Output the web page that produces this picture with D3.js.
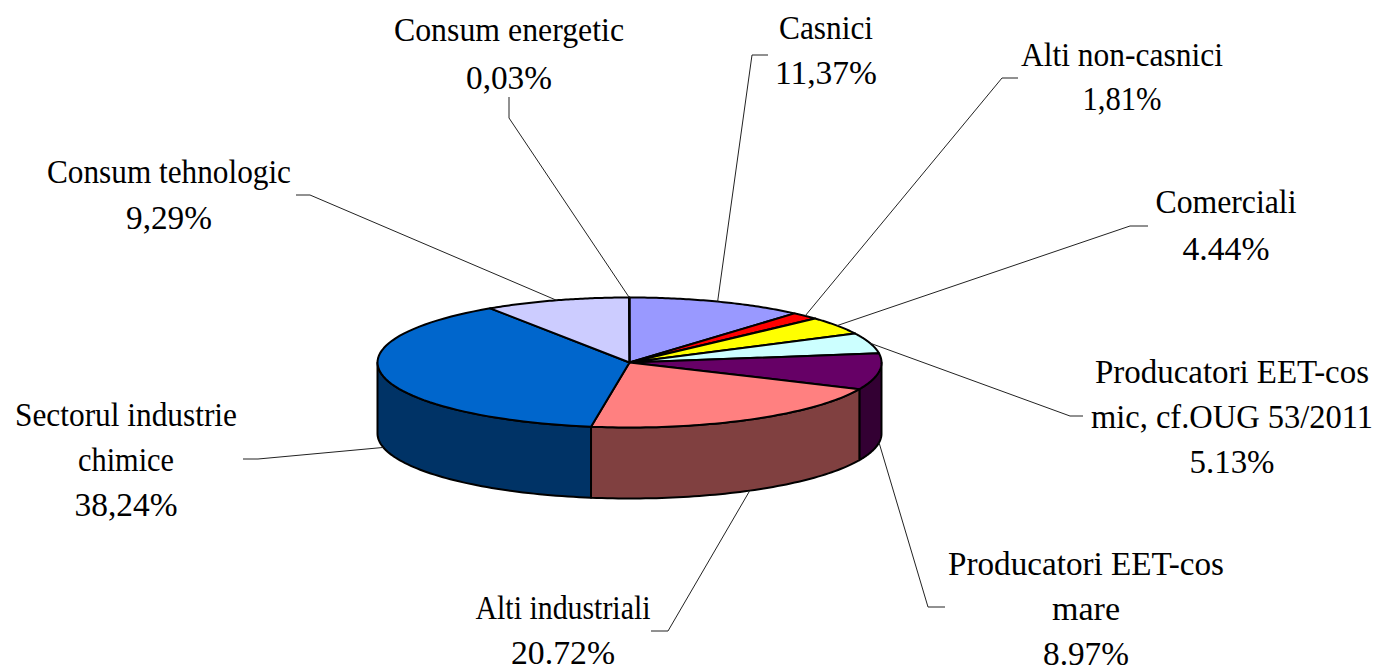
<!DOCTYPE html>
<html><head><meta charset="utf-8">
<script src="https://cdn.jsdelivr.net/npm/d3@7"></script>
<style>html,body{margin:0;padding:0;background:#fff;overflow:hidden}svg{display:block}text{font-family:"Liberation Serif",serif;font-size:33px;fill:#000}</style>
</head><body><svg id="c" width="1376" height="668"></svg>
<script>
const categories = ["Casnici","Alti non-casnici","Comerciali","Producatori EET-cos mic, cf.OUG 53/2011","Producatori EET-cos mare","Alti industriali","Sectorul industrie chimice","Consum tehnologic","Consum energetic"];
const values = [11.37,1.81,4.44,5.13,8.97,20.72,38.24,9.29,0.03];
const valueLabels = ["11,37%","1,81%","4.44%","5.13%","8.97%","20.72%","38,24%","9,29%","0,03%"];
const colors = ["#9999FF","#FF0000","#FFFF00","#CCFFFF","#660066","#FF8080","#0066CC","#CCCCFF","#FFFFCC"];
const sideColors = ["#4D4D80","#800000","#808000","#668080","#330033","#804040","#003366","#666680","#808066"];
// label layout, same order as categories
const labelLines = [["Casnici"],["Alti non-casnici"],["Comerciali"],["Producatori EET-cos","mic, cf.OUG 53/2011"],["Producatori EET-cos","mare"],["Alti industriali"],["Sectorul industrie","chimice"],["Consum tehnologic"],["Consum energetic"]];
const labelWidths = [[94,102],[202,79],[141,87],[274,282,85],[276,68,86],[175,104],[222,96,103],[244,86],[230,86]];
const labelX = [826,1122,1226,1232,1086,563,126,169,509];
const labelY = [39,66,213,383,575,619,426,183,41];
const lineGap = [45,44,47,45,45,45,45,46,48];
const elbow = [[752,55,768],[1002,78,1018],[1130,226,1148],[1070,416,1083],[928,607,945],[668,631,651],[258,459,243],[310,195,296],[509,118,509]];
const elbowEndY = [null,null,null,null,null,null,null,null,97];

const cx=629.5, cy=362.5, rx=252, ry=65, depth=71;
const svg=d3.select("#c");
const arcs=d3.pie().sort(null).startAngle(0).endAngle(2*Math.PI)(values);
const px=a=>cx+rx*Math.sin(a), py=a=>cy-ry*Math.cos(a);
const line=d3.line();
const arcPts=(a0,a1,dy=0)=>d3.range(0,61).map(i=>{const a=a0+(a1-a0)*i/60;return [px(a),py(a)+dy];});
const H=Math.PI/2;

// sides (front half only)
const g=svg.append("g").attr("stroke","#000").attr("stroke-width",2).attr("stroke-linejoin","round");
arcs.forEach((d,i)=>{
  const a0=Math.max(d.startAngle,H), a1=Math.min(d.endAngle,3*H);
  if(a1<=a0) return;
  const top=arcPts(a0,a1), bot=arcPts(a0,a1,depth).reverse();
  g.append("path").attr("d",line(top.concat(bot))+"Z").attr("fill",sideColors[i]);
});
// top face
arcs.forEach((d,i)=>{
  g.append("path").attr("d",line([[cx,cy]].concat(arcPts(d.startAngle,d.endAngle)))+"Z").attr("fill",colors[i]);
});

// leader lines
const lg=svg.append("g").attr("fill","none").attr("stroke","#222").attr("stroke-width",1);
arcs.forEach((d,i)=>{
  const m=(d.startAngle+d.endAngle)/2;
  const front=m>H&&m<3*H;
  const e=elbow[i];
  const pts=[[px(m),py(m)+(front?depth:0)],[e[0],e[1]],[e[2],elbowEndY[i]==null?e[1]:elbowEndY[i]]];
  lg.append("path").attr("d",line(pts));
});

// labels
arcs.forEach((d,i)=>{
  labelLines[i].concat([valueLabels[i]]).forEach((s,k)=>{
    svg.append("text").attr("text-anchor","middle")
      .attr("x",labelX[i]).attr("y",labelY[i]+k*lineGap[i])
      .attr("textLength",labelWidths[i][k]).attr("lengthAdjust","spacingAndGlyphs")
      .text(s);
  });
});
</script></body></html>
